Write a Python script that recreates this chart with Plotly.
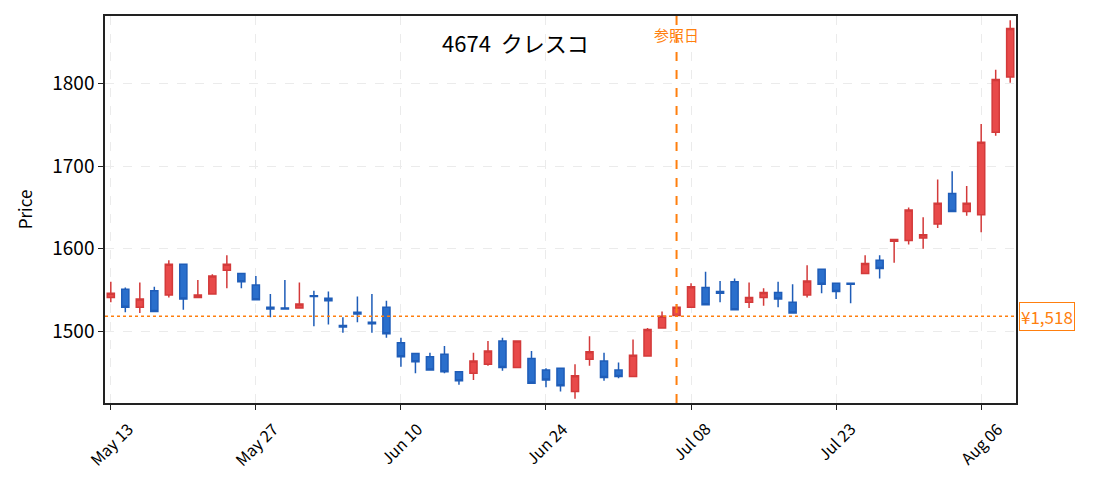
import plotly.graph_objects as go

### DATA ###

# Trading days (2024), one candle each.
dates = ['May 13', 'May 14', 'May 15', 'May 16', 'May 17', 'May 20', 'May 21',
         'May 22', 'May 23', 'May 24', 'May 27', 'May 28', 'May 29', 'May 30',
         'May 31', 'Jun 03', 'Jun 04', 'Jun 05', 'Jun 06', 'Jun 07', 'Jun 10',
         'Jun 11', 'Jun 12', 'Jun 13', 'Jun 14', 'Jun 17', 'Jun 18', 'Jun 19',
         'Jun 20', 'Jun 21', 'Jun 24', 'Jun 25', 'Jun 26', 'Jun 27', 'Jun 28',
         'Jul 01', 'Jul 02', 'Jul 03', 'Jul 04', 'Jul 05', 'Jul 08', 'Jul 09',
         'Jul 10', 'Jul 11', 'Jul 12', 'Jul 16', 'Jul 17', 'Jul 18', 'Jul 19',
         'Jul 22', 'Jul 23', 'Jul 24', 'Jul 25', 'Jul 26', 'Jul 29', 'Jul 30',
         'Jul 31', 'Aug 01', 'Aug 02', 'Aug 05', 'Aug 06', 'Aug 07', 'Aug 08']

open_ = [1541, 1551, 1529, 1549, 1544, 1581, 1541, 1545, 1574, 1570, 1556,
         1529, 1528, 1528, 1543, 1540, 1507, 1523, 1511, 1529, 1486, 1473,
         1469, 1472, 1451, 1449, 1460, 1488, 1456, 1467, 1453, 1455, 1427,
         1466, 1464, 1453, 1445, 1470, 1504, 1519, 1529, 1553, 1548, 1560,
         1535, 1541, 1547, 1535, 1544, 1575, 1558, 1558, 1570, 1586, 1609,
         1610, 1613, 1630, 1667, 1645, 1641, 1741, 1808]
high = [1560, 1553, 1559, 1554, 1586, 1581, 1562, 1569, 1592, 1570, 1567,
        1545, 1562, 1559, 1549, 1548, 1517, 1542, 1545, 1537, 1492, 1473,
        1474, 1482, 1451, 1474, 1488, 1492, 1488, 1476, 1455, 1455, 1460,
        1494, 1474, 1462, 1490, 1504, 1524, 1533, 1558, 1572, 1561, 1564,
        1559, 1552, 1560, 1557, 1580, 1575, 1558, 1558, 1592, 1592, 1611,
        1650, 1638, 1684, 1694, 1676, 1751, 1817, 1877]
low = [1535, 1523, 1522, 1524, 1541, 1526, 1541, 1545, 1552, 1552, 1538,
       1517, 1527, 1528, 1506, 1508, 1498, 1511, 1498, 1492, 1457, 1449,
       1452, 1449, 1435, 1441, 1458, 1452, 1456, 1437, 1432, 1427, 1418,
       1458, 1440, 1443, 1445, 1470, 1504, 1519, 1529, 1532, 1535, 1526,
       1528, 1531, 1529, 1522, 1541, 1546, 1539, 1534, 1570, 1564, 1583,
       1605, 1600, 1625, 1645, 1640, 1620, 1737, 1801]
close = [1546, 1529, 1539, 1524, 1581, 1539, 1544, 1567, 1581, 1560, 1538,
         1527, 1527, 1533, 1542, 1537, 1505, 1521, 1509, 1497, 1469, 1463,
         1453, 1451, 1440, 1464, 1476, 1456, 1488, 1437, 1441, 1434, 1446,
         1475, 1444, 1445, 1471, 1502, 1518, 1529, 1554, 1532, 1546, 1526,
         1541, 1547, 1539, 1522, 1561, 1557, 1548, 1557, 1582, 1576, 1611,
         1647, 1617, 1655, 1645, 1655, 1729, 1805, 1867]

tick_labels = ['May 13', 'May 27', 'Jun 10', 'Jun 24', 'Jul 08', 'Jul 23',
               'Aug 06']
ref_date = 'Jul 05'
ref_price = 1518
title = '4674  クレスコ'

### PLOT ###

FONT = 'Noto Sans CJK JP'
ORANGE = '#ff7f0e'
idx = list(range(len(dates)))
tick_pos = [dates.index(t) for t in tick_labels]
ref_idx = dates.index(ref_date)

fig = go.Figure(go.Candlestick(
    x=idx, open=open_, high=high, low=low, close=close,
    increasing=dict(line=dict(color='#d33a3a', width=1.5),
                    fillcolor='#e84a4a'),
    decreasing=dict(line=dict(color='#1f5db8', width=1.5),
                    fillcolor='#2a6fcc'),
    whiskerwidth=0, showlegend=False,
))

# Reference date and price markers.
fig.add_shape(type='line', xref='x', yref='paper', x0=ref_idx, x1=ref_idx,
              y0=0, y1=1, line=dict(color=ORANGE, width=2, dash='dash'))
fig.add_shape(type='line', xref='paper', yref='y', x0=0, x1=1,
              y0=ref_price, y1=ref_price,
              line=dict(color=ORANGE, width=1.5, dash='dot'))
fig.add_annotation(x=1.003, xref='paper', y=ref_price, yref='y',
                   text=f'¥{ref_price:,}', showarrow=False, xanchor='left',
                   yanchor='middle',
                   font=dict(color=ORANGE, size=17, family=FONT),
                   bordercolor=ORANGE, borderwidth=1, borderpad=1,
                   bgcolor='white')
fig.add_annotation(x=ref_idx, xref='x', y=0.952, yref='paper', text='参照日',
                   showarrow=False, yanchor='middle',
                   font=dict(color=ORANGE, size=15, family=FONT))
fig.add_annotation(x=0.451, xref='paper', y=0.933, yref='paper', text=title,
                   showarrow=False, yanchor='middle',
                   font=dict(color='black', size=22, family=FONT))

# Rotated date labels centred under their ticks.
for pos, label in zip(tick_pos, tick_labels):
    fig.add_annotation(x=pos, xref='x', y=0, yref='paper', yshift=-11,
                       text=label, textangle=-45, showarrow=False,
                       xanchor='center', yanchor='top',
                       font=dict(size=16, family=FONT, color='black'))

axis_style = dict(showline=True, linecolor='#222', linewidth=1.5, mirror=True,
                  ticks='outside', ticklen=5, tickcolor='#222',
                  showgrid=True, gridcolor='#ebebeb', griddash='dash',
                  zeroline=False)

# The page adds an 8px body margin, so the margins are shifted to match.
fig.update_layout(
    width=1095, height=492,
    margin=dict(l=97, r=87, t=6, b=97),
    paper_bgcolor='white', plot_bgcolor='white',
    font=dict(family=FONT, color='black'),
    xaxis=dict(range=[-0.4, 62.4], tickvals=tick_pos, showticklabels=False,
               rangeslider=dict(visible=False), **axis_style),
    yaxis=dict(range=[1413, 1882], tickvals=[1500, 1600, 1700, 1800],
               tickfont=dict(size=19), title=dict(text='Price',
                                                  font=dict(size=17)),
               **axis_style),
)

fig.write_html('out.html')
